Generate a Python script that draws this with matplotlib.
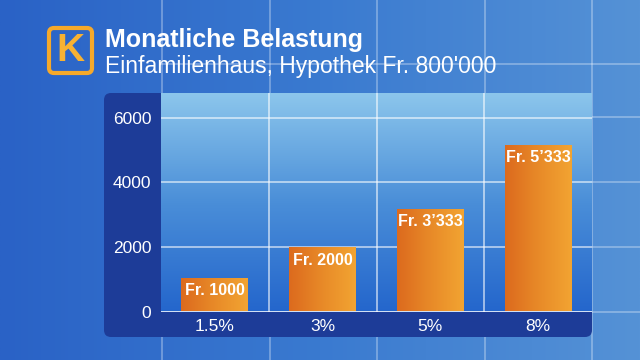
import numpy as np
import matplotlib
matplotlib.use("Agg")
import matplotlib.pyplot as plt
from matplotlib.patches import FancyBboxPatch
from matplotlib.colors import LinearSegmentedColormap

plt.rcParams["font.family"] = ["Liberation Sans", "DejaVu Sans"]

# Data
categories = ["1.5%", "3%", "5%", "8%"]
heights = [1050, 2000, 3180, 5160]          # bar heights as drawn
bar_labels = ["Fr. 1000", "Fr. 2000", "Fr. 3\u2019333", "Fr. 5\u2019333"]
y_ticks = [0, 2000, 4000, 6000]
title = "Monatliche Belastung"
subtitle = "Einfamilienhaus, Hypothek Fr. 800'000"

W, H = 640, 360
fig = plt.figure(figsize=(6.4, 3.6), dpi=100)

# background in pixel coords
bg = fig.add_axes([0, 0, 1, 1])
bg.set_xlim(0, W)
bg.set_ylim(H, 0)
bg.axis("off")
bg_cmap = LinearSegmentedColormap.from_list("bg", ["#2a62c6", "#3a7ad0", "#5592d6"])
grad = np.tile(np.linspace(0, 1, 256), (2, 1))
bg.imshow(grad, cmap=bg_cmap, extent=[0, W, H, 0], aspect="auto", zorder=0)

# faint background grid
for x in [162, 270, 377, 485, 592]:
    bg.plot([x, x], [0, H], color="white", alpha=0.35, lw=1.2, zorder=1)
bg.plot([160, W], [64, 64], color="white", alpha=0.35, lw=1.2, zorder=1)
for y in [117, 182, 247, 312]:
    bg.plot([592, W], [y, y], color="white", alpha=0.35, lw=1.2, zorder=1)

# dark panel
panel = FancyBboxPatch((104, 93), 488, 244, boxstyle="round,pad=0,rounding_size=7",
                       facecolor="#1d3c98", edgecolor="none", zorder=2)
bg.add_patch(panel)

# logo
logo = FancyBboxPatch((49, 28), 43, 45, boxstyle="round,pad=0,rounding_size=5",
                      facecolor="none", edgecolor="#f6a92a", lw=3, zorder=3)
bg.add_patch(logo)
bg.text(70.5, 51, "K", color="#f8b232", fontsize=28, fontweight="bold",
        ha="center", va="center", zorder=3)

# titles
bg.text(105, 40, title, color="white", fontsize=18, fontweight="bold",
        ha="left", va="center", zorder=3)
bg.text(105, 66, subtitle, color="white", fontsize=16.5,
        ha="left", va="center", zorder=3)

# chart axes
left, right, top, bottom = 161, 592, 93, 312
ax = fig.add_axes([left / W, (H - bottom) / H, (right - left) / W, (bottom - top) / H])
ax.set_xlim(-0.5, 3.5)
ax.set_ylim(0, 6760)
ax.set_zorder(3)

ax_cmap = LinearSegmentedColormap.from_list("ax", ["#2466cc", "#4a8ed8", "#8cc6ec"])
vgrad = np.linspace(0, 1, 256).reshape(-1, 1)
ax.imshow(vgrad, cmap=ax_cmap, extent=[-0.5, 3.5, 0, 6760], origin="lower",
          aspect="auto", zorder=0)

x = np.arange(len(categories))
bars = ax.bar(x, heights, width=0.62, color="none", zorder=3)
bar_cmap = LinearSegmentedColormap.from_list("bar", ["#dc6a1e", "#e88a28", "#f2a432"])
hgrad = np.tile(np.linspace(0, 1, 128), (2, 1))
for b, lab in zip(bars, bar_labels):
    x0, w, h = b.get_x(), b.get_width(), b.get_height()
    ax.imshow(hgrad, cmap=bar_cmap, extent=[x0, x0 + w, 40, h], origin="lower",
              aspect="auto", zorder=3)
    ax.annotate(lab, xy=(x0 + w / 2, h), xytext=(0, -13), textcoords="offset pixels",
                ha="center", va="center", color="white", fontsize=11.5,
                fontweight="bold", zorder=4)

ax.set_xticks(x)
ax.set_xticklabels(categories)
ax.set_xticks([0.5, 1.5, 2.5], minor=True)
ax.set_yticks(y_ticks)
ax.set_yticklabels([str(v) for v in y_ticks])
ax.tick_params(axis="both", which="both", length=0, colors="white")
ax.tick_params(axis="y", labelsize=12.5, pad=7)
ax.tick_params(axis="x", labelsize=12.5, pad=5)
ax.grid(axis="y", color="white", alpha=0.6, lw=1.3, zorder=1)
ax.grid(axis="x", which="minor", color="white", alpha=0.6, lw=1.3, zorder=1)
ax.axhline(0, color="white", alpha=0.6, lw=1.3, zorder=2)
for s in ax.spines.values():
    s.set_visible(False)

fig.savefig("out.png", dpi=100)
